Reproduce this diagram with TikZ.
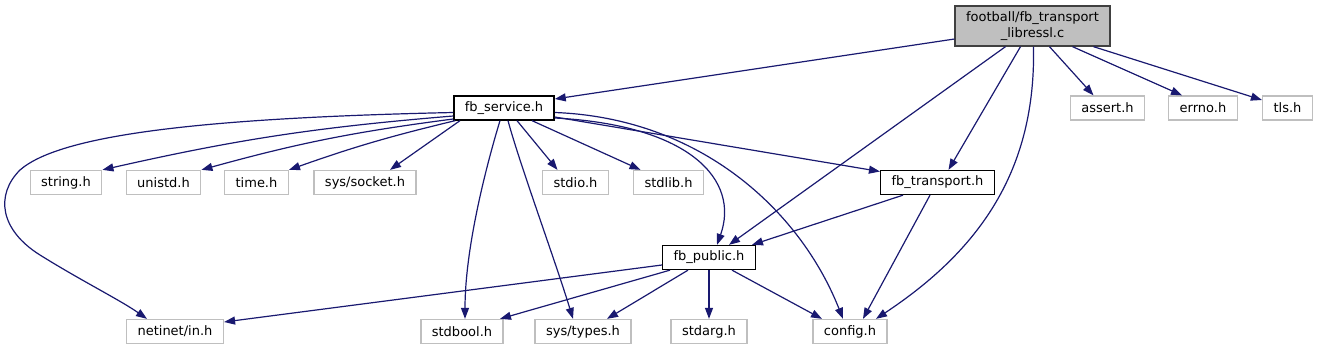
\documentclass[tikz,border=0pt]{standalone}
\usepackage{fontspec}
\setmainfont{DejaVu Sans}
\usepackage{xcolor}
\usetikzlibrary{arrows.meta}
\definecolor{edgeblue}{HTML}{191970}
\definecolor{boxgray}{HTML}{BFBFBF}
\definecolor{rootline}{HTML}{404040}

\begin{document}
\begin{tikzpicture}[x=1pt,y=-1pt,
  file/.style={draw=black,line width=1.3pt,fill=white,inner xsep=11pt,inner ysep=0pt,minimum height=24pt,font=\fontsize{13}{16}\selectfont},
  sysfile/.style={file,draw=boxgray},
  dep/.style={draw=edgeblue,line width=1.2pt,-{Triangle[length=11pt,width=8pt]}}]
\useasboundingbox (0,0) rectangle (1318,351);
\node[file,draw=rootline,fill=boxgray,align=center,minimum height=40pt] (root) at (1032.5,26) {football/fb\_transport\\\_libressl.c};
\node[file] (service) at (504,108) {fb\_service.h};
\node[sysfile] (assert) at (1107.5,108) {assert.h};
\node[sysfile] (errno) at (1203,108) {errno.h};
\node[sysfile] (tls) at (1287.5,108) {tls.h};
\node[sysfile] (string) at (66,182.5) {string.h};
\node[sysfile] (unistd) at (163.5,182.5) {unistd.h};
\node[sysfile] (time) at (256.5,182.5) {time.h};
\node[sysfile] (socket) at (365,182.5) {sys/socket.h};
\node[sysfile] (stdio) at (575.5,182.5) {stdio.h};
\node[sysfile] (stdlib) at (668.5,182.5) {stdlib.h};
\node[file] (transport) at (937.5,182.5) {fb\_transport.h};
\node[file] (public) at (709,257.5) {fb\_public.h};
\node[sysfile] (netinet) at (175,331.5) {netinet/in.h};
\node[sysfile] (stdbool) at (462,331.5) {stdbool.h};
\node[sysfile] (types) at (583,331.5) {sys/types.h};
\node[sysfile] (stdarg) at (709,331.5) {stdarg.h};
\node[sysfile] (config) at (850,331.5) {config.h};
\draw[dep] ([yshift=-13pt]root.west) -- ([yshift=9pt]service.east);
\draw[dep] ([xshift=-27pt]root.south) -- ([xshift=20pt]public.north);
\draw[dep] ([xshift=-12pt]root.south) -- ([xshift=11pt]transport.north);
\draw[dep] ([xshift=1pt]root.south) .. controls (1036,170) and (980,250) .. ([xshift=26pt]config.north);
\draw[dep] ([xshift=17pt]root.south) -- ([xshift=-14pt]assert.north);
\draw[dep] ([xshift=40pt]root.south) -- ([xshift=-21pt]errno.north);
\draw[dep] ([xshift=61pt]root.south) -- ([yshift=8pt]tls.west);
\draw[dep] ([yshift=-4.5pt]service.west) .. controls (200,118) and (60,135) .. (20,170) .. controls (-5,195) and (0,230) .. (40,255) .. controls (80,280) and (120,300) .. ([xshift=-28pt]netinet.north);
\draw[dep] ([yshift=-8pt]service.west) to[bend right=4] (string.north east);
\draw[dep] ([yshift=-11pt]service.west) to[bend right=4] (unistd.north east);
\draw[dep] ([xshift=2pt]service.south west) to[bend right=3] (time.north east);
\draw[dep] ([xshift=-44pt]service.south) -- ([xshift=25pt]socket.north);
\draw[dep] ([xshift=13pt]service.south) -- ([xshift=-18pt]stdio.north);
\draw[dep] ([xshift=28pt]service.south) -- ([xshift=-28pt]stdlib.north);
\draw[dep] ([yshift=-9pt]service.east) -- ([yshift=11pt]transport.west);
\draw[dep] ([yshift=-10pt]service.east) .. controls (690,125) and (740,180) .. ([xshift=8pt]public.north);
\draw[dep] ([yshift=-4.5pt]service.east) .. controls (700,118) and (800,210) .. ([xshift=-7pt]config.north);
\draw[dep] ([xshift=-4pt]service.south) .. controls (485,170) and (465,250) .. ([xshift=3pt]stdbool.north);
\draw[dep] ([xshift=4pt]service.south) .. controls (520,165) and (555,260) .. ([xshift=-10pt]types.north);
\draw[dep] ([xshift=-34.5pt]transport.south) -- ([xshift=43pt]public.north);
\draw[dep] ([xshift=-7.5pt]transport.south) -- ([xshift=13pt]config.north);
\draw[dep] ([yshift=-7.5pt]public.west) -- ([yshift=9.5pt]netinet.east);
\draw[dep] ([xshift=-39pt]public.south) -- ([xshift=38pt]stdbool.north);
\draw[dep] ([xshift=-21pt]public.south) -- ([xshift=24pt]types.north);
\draw[dep] (public) -- (stdarg);
\draw[dep] ([xshift=23pt]public.south) -- ([xshift=-28pt]config.north);
\end{tikzpicture}
\end{document}
